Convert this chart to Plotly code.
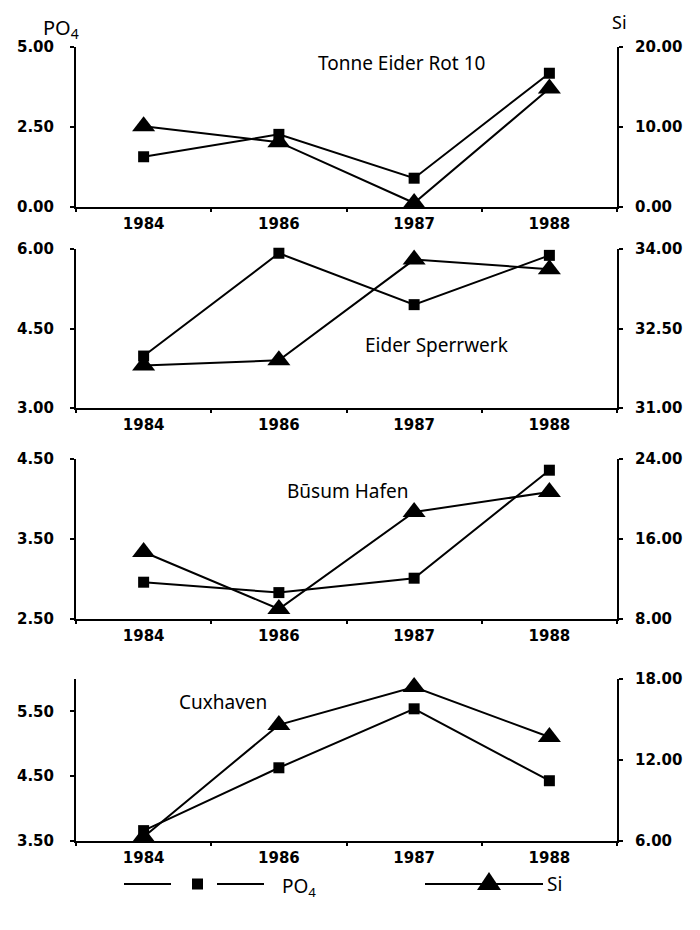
import plotly.graph_objects as go

# ---------------- data ----------------
years = ["1984", "1986", "1987", "1988"]

stations = ["Tonne Eider Rot 10", "Eider Sperrwerk", "Būsum Hafen", "Cuxhaven"]

po4_tonne = [1.57, 2.27, 0.90, 4.18]
si_tonne = [10.1, 8.1, 0.5, 14.8]

po4_sperrwerk = [3.98, 5.92, 4.95, 5.88]
si_sperrwerk = [31.80, 31.90, 33.80, 33.62]

po4_busum = [2.96, 2.83, 3.01, 4.36]
si_busum = [14.7, 9.0, 18.7, 20.7]

po4_cux = [3.66, 4.63, 5.54, 4.43]
si_cux = [6.3, 14.6, 17.4, 13.7]

po4_ranges = [[0, 5], [3, 6], [2.5, 4.5], [3.5, 6.0]]
po4_ticks = [[0, 2.5, 5], [3, 4.5, 6], [2.5, 3.5, 4.5], [3.5, 4.5, 5.5]]
si_ranges = [[0, 20], [31, 34], [8, 24], [6, 18]]
si_ticks = [[0, 10, 20], [31, 32.5, 34], [8, 16, 24], [6, 12, 18]]

po4_series = [po4_tonne, po4_sperrwerk, po4_busum, po4_cux]
si_series = [si_tonne, si_sperrwerk, si_busum, si_cux]

# ---------------- layout geometry (screen pixels) ----------------
# the page body has an 8px default margin, so the figure is shrunk and
# all screen positions are shifted by that offset
OFF = 8
W, H = 700 - 2 * OFF, 930 - 2 * OFF
x_left, x_right = 76, 617
panel_pix = [(47, 207), (249, 408), (459, 619), (679, 841)]  # (top, bottom)


def py(p):
    return 1 - (p - OFF) / H


def px(p):
    return (p - OFF) / W


TICKFONT = dict(family="DejaVu Sans", size=15, color="black", weight="bold")
TEXTFONT = dict(family="Noto Sans", size=19, color="black")

fig = go.Figure()
layout = dict(
    width=W, height=H,
    margin=dict(l=0, r=0, t=0, b=0),
    paper_bgcolor="white", plot_bgcolor="white",
    showlegend=False,
)

for i in range(4):
    n = i + 1
    xa = "x" if n == 1 else f"x{n}"
    ya_l = f"y{2*i+1}" if i > 0 else "y"
    ya_r = f"y{2*i+2}"
    top, bot = panel_pix[i]
    dom_y = [py(bot), py(top)]

    xkey = "xaxis" if n == 1 else f"xaxis{n}"
    ylkey = "yaxis" if i == 0 else f"yaxis{2*i+1}"
    yrkey = f"yaxis{2*i+2}"

    layout[xkey] = dict(
        domain=[px(x_left), px(x_right)], anchor=ya_l, type="category",
        categoryorder="array", categoryarray=years, range=[-0.5, 3.5],
        showline=True, linecolor="black", linewidth=2, mirror=False,
        ticks="outside", tickson="boundaries", ticklen=3, tickwidth=1.5, tickcolor="black",
        showgrid=False, zeroline=False, tickfont=TICKFONT, automargin=False,
        ticklabelstandoff=2,
    )
    layout[ylkey] = dict(
        domain=dom_y, anchor=xa, range=po4_ranges[i], tickvals=po4_ticks[i],
        tickformat=".2f", showline=True, linecolor="black", linewidth=2,
        ticks="outside", ticklen=4, tickwidth=1.5, tickcolor="black",
        showgrid=False, zeroline=False, tickfont=TICKFONT, automargin=False,
        ticklabelstandoff=13,
    )
    layout[yrkey] = dict(
        domain=dom_y, anchor=xa, overlaying=ya_l, side="right",
        range=si_ranges[i], tickvals=si_ticks[i], tickformat=".2f",
        showline=True, linecolor="black", linewidth=2,
        ticks="outside", ticklen=4, tickwidth=1.5, tickcolor="black",
        showgrid=False, zeroline=False, tickfont=TICKFONT, automargin=False,
        ticklabelstandoff=9,
    )

    fig.add_trace(go.Scatter(
        x=years, y=po4_series[i], xaxis=xa, yaxis=ya_l, mode="lines+markers",
        name="PO4", line=dict(color="black", width=2),
        marker=dict(symbol="square", size=11, color="black"), cliponaxis=False,
    ))
    fig.add_trace(go.Scatter(
        x=years, y=si_series[i], xaxis=xa, yaxis=ya_r, mode="lines+markers",
        name="Si", line=dict(color="black", width=2),
        marker=dict(symbol="triangle-up", size=20, color="black"), cliponaxis=False,
    ))

fig.update_layout(**layout)

# station labels (pixel centres)
label_pos = [(401, 63), (436, 345), (347, 491), (223, 702)]
annotations = []
for name, (lx, ly) in zip(stations, label_pos):
    annotations.append(dict(
        text=name, x=px(lx), y=py(ly), xref="paper", yref="paper",
        xanchor="center", yanchor="middle", showarrow=False, font=TEXTFONT,
    ))

# axis titles
annotations.append(dict(text="PO<sub>4</sub>", x=px(41), y=py(28), xref="paper", yref="paper",
                        xanchor="left", yanchor="middle", showarrow=False,
                        font=dict(family="Noto Sans", size=20, color="black")))
annotations.append(dict(text="Si", x=px(611), y=py(OFF + 1), xref="paper", yref="paper",
                        xanchor="left", yanchor="top", showarrow=False, borderpad=0,
                        font=dict(family="Noto Sans", size=18, color="black")))

# legend (custom drawn key)
leg_y = 884
shapes = [
    dict(type="line", xref="paper", yref="paper", x0=px(124), x1=px(171), y0=py(leg_y), y1=py(leg_y),
         line=dict(color="black", width=2)),
    dict(type="rect", xref="paper", yref="paper", x0=px(192), x1=px(203), y0=py(leg_y + 5.5), y1=py(leg_y - 5.5),
         fillcolor="black", line=dict(width=0)),
    dict(type="line", xref="paper", yref="paper", x0=px(217), x1=px(264), y0=py(leg_y), y1=py(leg_y),
         line=dict(color="black", width=2)),
    dict(type="line", xref="paper", yref="paper", x0=px(425), x1=px(543), y0=py(leg_y), y1=py(leg_y),
         line=dict(color="black", width=2)),
    dict(type="path", xref="paper", yref="paper",
         path=f"M {px(477)},{py(leg_y + 6)} L {px(501)},{py(leg_y + 6)} L {px(489)},{py(leg_y - 12)} Z",
         fillcolor="black", line=dict(width=0)),
]
annotations.append(dict(text="PO<sub>4</sub>", x=px(280), y=py(leg_y + 3), xref="paper", yref="paper",
                        xanchor="left", yanchor="middle", showarrow=False,
                        font=dict(family="Noto Sans", size=19, color="black")))
annotations.append(dict(text="Si", x=px(545), y=py(leg_y), xref="paper", yref="paper",
                        xanchor="left", yanchor="middle", showarrow=False,
                        font=dict(family="Noto Sans", size=19, color="black")))

fig.update_layout(annotations=annotations, shapes=shapes)
fig.write_html("out.html")
